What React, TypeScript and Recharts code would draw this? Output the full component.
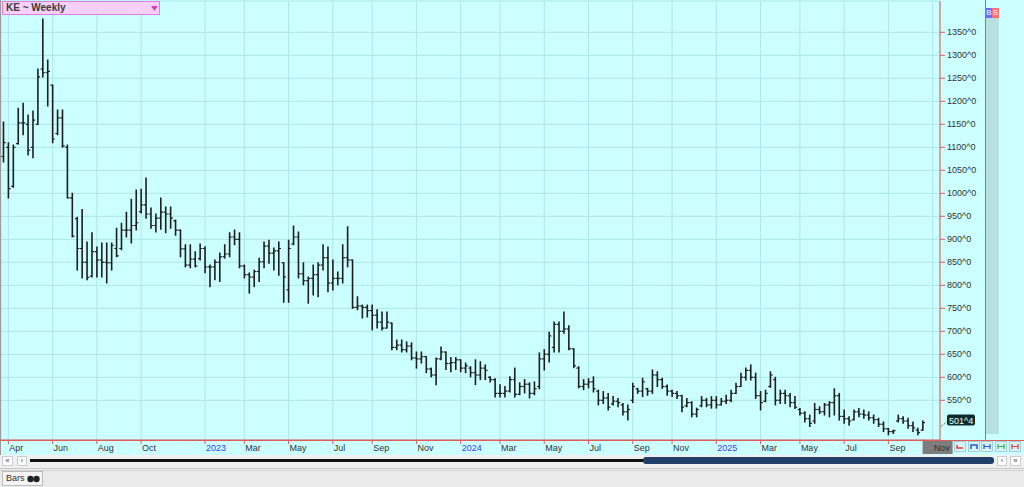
import React from 'react'
import { ComposedChart, Bar, XAxis, YAxis, CartesianGrid, ReferenceLine } from 'recharts'

// weekly KE futures bars, first bar is the week ending 2022-03-25
const firstWeek = '2022-03-25'
const weeksAhead = 3

const highs = [
  1155, 1110, 1105, 1185, 1196, 1170, 1179, 1270, 1379, 1290,
  1235, 1181, 1181, 1105, 1000, 948, 965, 894, 914, 883,
  892, 892, 892, 924, 935, 959, 987, 1007, 1009, 1033,
  968, 955, 990, 970, 970, 942, 920, 888, 888, 873,
  890, 884, 844, 855, 870, 888, 914, 920, 914, 844,
  827, 833, 859, 894, 898, 881, 894, 849, 898, 929,
  916, 849, 818, 844, 849, 888, 883, 855, 829, 888,
  927, 855, 775, 757, 757, 757, 747, 742, 742, 718,
  681, 681, 677, 675, 655, 655, 645, 620, 642, 666,
  655, 643, 643, 638, 631, 623, 638, 634, 627, 601,
  597, 584, 580, 601, 620, 588, 595, 588, 590, 653,
  660, 698, 720, 720, 742, 712, 662, 623, 595, 597,
  601, 572, 569, 565, 558, 554, 543, 540, 587, 576,
  598, 576, 616, 612, 598, 583, 572, 569, 561, 554,
  547, 533, 558, 554, 558, 558, 554, 561, 572, 587,
  609, 620, 627, 609, 569, 572, 612, 600, 572, 572,
  565, 558, 532, 525, 518, 543, 536, 543, 547, 575,
  565, 529, 514, 529, 532, 529, 525, 518, 511, 503,
  489, 485, 518, 514, 511, 503, 489, 505,
]

const lows = [
  1068, 990, 1013, 1107, 1127, 1083, 1077, 1150, 1253, 1190,
  1110, 1127, 1100, 990, 905, 833, 816, 812, 818, 818,
  818, 805, 833, 862, 877, 905, 892, 920, 957, 946,
  924, 916, 922, 914, 924, 909, 862, 840, 838, 840,
  855, 827, 797, 812, 808, 859, 862, 888, 838, 816,
  783, 797, 808, 838, 848, 833, 822, 763, 763, 888,
  816, 801, 761, 779, 775, 833, 786, 790, 801, 805,
  840, 750, 747, 729, 731, 703, 707, 703, 707, 660,
  660, 655, 655, 638, 620, 631, 610, 601, 584, 638,
  617, 612, 617, 612, 610, 601, 584, 595, 595, 590,
  557, 557, 557, 568, 557, 562, 566, 555, 562, 575,
  616, 633, 655, 655, 696, 660, 621, 577, 573, 577,
  568, 540, 543, 529, 540, 536, 518, 507, 545, 565,
  558, 561, 565, 580, 576, 561, 558, 554, 525, 536,
  514, 514, 536, 536, 533, 533, 540, 543, 547, 565,
  580, 594, 594, 554, 529, 547, 578, 540, 543, 543,
  536, 532, 518, 503, 493, 500, 521, 518, 514, 518,
  507, 500, 496, 507, 514, 511, 507, 500, 493, 482,
  475, 478, 503, 500, 489, 482, 475, 485,
]

const opens = [
  1080, 1100, 1015, 1108, 1153, 1150, 1100, 1150, 1270, 1262,
  1235, 1130, 1164, 1100, 990, 945, 880, 850, 820, 873,
  855, 850, 849, 880, 880, 920, 920, 930, 960, 975,
  955, 930, 946, 959, 955, 940, 920, 879, 844, 857,
  858, 880, 840, 840, 850, 862, 868, 905, 900, 842,
  823, 818, 830, 851, 885, 870, 875, 849, 790, 890,
  905, 825, 810, 815, 823, 844, 860, 805, 815, 815,
  860, 855, 752, 755, 752, 745, 735, 720, 707, 718,
  665, 670, 660, 668, 642, 640, 645, 618, 605, 640,
  655, 630, 632, 638, 620, 620, 610, 605, 620, 600,
  595, 565, 565, 570, 595, 563, 580, 585, 565, 580,
  640, 650, 665, 715, 700, 705, 662, 620, 580, 585,
  590, 570, 550, 555, 542, 548, 540, 525, 550, 575,
  570, 575, 570, 605, 595, 580, 570, 565, 560, 538,
  545, 520, 538, 550, 540, 550, 540, 548, 550, 565,
  580, 600, 615, 600, 560, 548, 580, 595, 550, 565,
  560, 545, 530, 522, 510, 505, 530, 525, 540, 545,
  560, 515, 510, 508, 525, 520, 518, 512, 508, 498,
  488, 482, 505, 510, 505, 495, 485, 485,
]

const closes = [
  1110, 1010, 1100, 1153, 1153, 1094, 1159, 1253, 1262, 1265,
  1118, 1164, 1103, 990, 907, 880, 850, 817, 873, 855,
  850, 849, 887, 864, 920, 920, 930, 936, 975, 955,
  930, 946, 959, 955, 946, 920, 879, 844, 857, 842,
  880, 840, 840, 850, 862, 868, 905, 900, 842, 823,
  818, 830, 851, 885, 870, 875, 880, 818, 880, 905,
  825, 810, 815, 823, 844, 860, 805, 815, 815, 860,
  855, 752, 755, 752, 745, 735, 720, 707, 720, 665,
  670, 660, 668, 642, 640, 645, 618, 605, 640, 655,
  630, 632, 638, 620, 625, 610, 605, 620, 615, 595,
  565, 565, 570, 595, 563, 580, 585, 565, 575, 640,
  650, 690, 715, 700, 705, 662, 625, 580, 585, 590,
  575, 550, 555, 535, 548, 545, 525, 530, 580, 570,
  590, 570, 605, 595, 580, 570, 565, 560, 535, 545,
  520, 530, 550, 540, 550, 540, 548, 550, 565, 580,
  600, 615, 600, 560, 545, 565, 605, 550, 565, 560,
  545, 535, 522, 510, 500, 530, 525, 540, 545, 560,
  515, 510, 505, 525, 520, 518, 512, 508, 498, 488,
  482, 484, 510, 505, 495, 490, 480, 501.5,
]

const tickDates = [
  '2022-04-01', '2022-06-03', '2022-08-05', '2022-10-07', '2023-01-06', '2023-03-03',
  '2023-05-05', '2023-07-07', '2023-09-01', '2023-11-03', '2024-01-05', '2024-03-01',
  '2024-05-03', '2024-07-05', '2024-09-06', '2024-11-01', '2025-01-03', '2025-03-07',
  '2025-05-02', '2025-07-04', '2025-09-05', '2025-11-07',
]
const tickNames = [
  'Apr', 'Jun', 'Aug', 'Oct', '2023', 'Mar', 'May', 'Jul', 'Sep', 'Nov', '2024', 'Mar',
  'May', 'Jul', 'Sep', 'Nov', '2025', 'Mar', 'May', 'Jul', 'Sep', 'Nov',
]
const priceTicks = [550, 600, 650, 700, 750, 800, 850, 900, 950, 1000, 1050, 1100, 1150, 1200, 1250, 1300, 1350]

const RED = '#e25b5b'
const BG = '#ccffff'
const GRID = '#ade6e6'
const FONT = '"Liberation Sans", Arial, sans-serif'

const dates: string[] = []
for (let i = 0; i < highs.length + weeksAhead; i++) {
  const d = new Date(Date.parse(firstWeek + 'T00:00:00Z') + i * 7 * 86400000)
  dates.push(d.toISOString().slice(0, 10))
}

const rows = dates.map((date, i) =>
  i < highs.length
    ? { date, range: [lows[i], highs[i]], high: highs[i], low: lows[i], open: opens[i], close: closes[i] }
    : { date, range: null }
)

const lastClose = closes[closes.length - 1]
const fmt32 = (v: number) => `${Math.floor(v)}^${Math.round((v % 1) * 8)}`

function OhlcShape(props: any) {
  const { x, y, width, height, payload } = props
  if (payload == null || payload.high == null || height == null) return <g />
  const top = Math.min(y, y + height)
  const h = Math.abs(height)
  const cx = x + width / 2
  const span = payload.high - payload.low || 1
  const oy = top + ((payload.high - payload.open) / span) * h
  const cy = top + ((payload.high - payload.close) / span) * h
  return (
    <g stroke="#1e1e1e" strokeWidth={1.6}>
      <line x1={cx} y1={top - 0.5} x2={cx} y2={top + h + 0.5} />
      <line x1={cx - 2.2} y1={oy} x2={cx} y2={oy} strokeWidth={1.2} />
      <line x1={cx} y1={cy} x2={cx + 2.2} y2={cy} strokeWidth={1.2} />
    </g>
  )
}

function DateTick(props: any) {
  const { x, y, payload } = props
  const idx = tickDates.indexOf(payload.value)
  const label = tickNames[idx] ?? ''
  const isYear = /^\d{4}$/.test(label)
  const isCurrent = idx === tickDates.length - 1
  return (
    <g>
      {isCurrent && <rect x={x - 10} y={y - 3} width={30} height={13} fill="#7d7d7d" />}
      <text x={x + 1} y={y + 7} fontSize={9} fontFamily={FONT} fill={isYear ? '#3b3bff' : '#333'}>
        {label}
      </text>
    </g>
  )
}

function PriceTag(props: any) {
  const vb = props.viewBox
  if (!vb) return null
  const x = vb.x + vb.width
  const y = vb.y
  return (
    <g>
      <line x1={x + 1} y1={y + 4} x2={x + 7} y2={y - 1} stroke="#555" strokeDasharray="1 1" />
      <rect x={x + 7} y={y - 8} width={28} height={11} rx={2} fill="#0d2d2d" />
      <text x={x + 9} y={y + 1} fontSize={9} fontFamily={FONT} fill="#e6ffff">
        {fmt32(lastClose)}
      </text>
    </g>
  )
}

function ToolButton({ left, color, kind }: { left: number; color: string; kind: string }) {
  return (
    <div style={{ position: 'absolute', left, top: 441, width: 12, height: 11, background: '#d6f3f7', border: '1px solid #9fcfd8', boxSizing: 'border-box' }}>
      <svg width={10} height={9} style={{ position: 'absolute', left: 0, top: 0 }}>
        {kind === 'l' && <path d="M2 3 V6 H8" stroke={color} strokeWidth={1.5} fill="none" />}
        {kind === 'n' && <path d="M2 7 V3 H8 V7" stroke={color} strokeWidth={1.5} fill="none" />}
        {kind === 'h' && <path d="M2 2 V7 M8 2 V7 M2 4.5 H8" stroke={color} strokeWidth={1.2} fill="none" />}
      </svg>
    </div>
  )
}

export default function App() {
  return (
    <div style={{ position: 'absolute', left: 0, top: 0, width: 1024, height: 487, background: '#eeeeee', overflow: 'hidden', fontFamily: FONT }}>
      <div style={{ position: 'absolute', left: 0, top: 0, width: 1024, height: 455, background: BG }} />
      <div style={{ position: 'absolute', left: 0, top: 0 }}>
        <ComposedChart width={1024} height={455} data={rows} margin={{ top: 1, right: 39, bottom: 0, left: 1 }}>
          <CartesianGrid stroke={GRID} strokeWidth={1} />
          <XAxis
            dataKey="date"
            ticks={tickDates}
            interval={0}
            height={15}
            tick={DateTick}
            tickSize={4}
            tickMargin={0}
            axisLine={{ stroke: RED }}
            tickLine={{ stroke: RED }}
          />
          <YAxis
            orientation="right"
            width={45}
            domain={[463.7, 1418]}
            allowDataOverflow
            ticks={priceTicks}
            interval={0}
            tickFormatter={(v: number) => `${v}^0`}
            tick={{ fontSize: 9, fill: '#333', fontFamily: FONT, textAnchor: 'start' }}
            tickSize={5}
            tickMargin={2}
            axisLine={{ stroke: RED }}
            tickLine={{ stroke: RED }}
          />
          <Bar dataKey="range" shape={OhlcShape} isAnimationActive={false} />
          <ReferenceLine y={lastClose} stroke="none" label={<PriceTag />} />
        </ComposedChart>
      </div>

      {/* frame lines */}
      <div style={{ position: 'absolute', left: 0, top: 0, width: 1, height: 455, background: '#9a9a9a' }} />
      <div style={{ position: 'absolute', left: 0, top: 440, width: 1024, height: 1, background: RED }} />
      <div style={{ position: 'absolute', left: 985, top: 0, width: 1, height: 440, background: RED }} />

      {/* symbol box */}
      <div style={{ position: 'absolute', left: 2, top: 1, width: 158, height: 14, background: '#f6d0f6', border: '1px solid #df7fdf', boxSizing: 'border-box' }}>
        <span style={{ position: 'absolute', left: 3, top: 0, fontSize: 10, fontWeight: 'bold', color: '#3a3a3a', lineHeight: '12px' }}>KE ~ Weekly</span>
        <svg width={8} height={6} style={{ position: 'absolute', left: 148, top: 4 }}>
          <path d="M0 0 H7 L3.5 5 Z" fill="#d63fbf" />
        </svg>
      </div>

      {/* B / S column */}
      <div style={{ position: 'absolute', left: 986, top: 8, width: 13, height: 426, background: '#b9e0e0' }} />
      <div style={{ position: 'absolute', left: 986, top: 8, width: 6, height: 10, background: '#6b6bff', color: '#fff', fontSize: 8, lineHeight: '10px', textAlign: 'center' }}>B</div>
      <div style={{ position: 'absolute', left: 992, top: 8, width: 7, height: 10, background: '#ff6f6f', color: '#fff', fontSize: 8, lineHeight: '10px', textAlign: 'center' }}>S</div>

      {/* tool buttons */}
      <ToolButton left={954} color="#e23a3a" kind="l" />
      <ToolButton left={968} color="#2c52d8" kind="n" />
      <ToolButton left={981} color="#2c52d8" kind="h" />
      <ToolButton left={995} color="#2fb04a" kind="h" />
      <ToolButton left={1009} color="#e23a3a" kind="h" />

      {/* scroll bar row */}
      <div style={{ position: 'absolute', left: 0, top: 455, width: 1024, height: 13, background: '#f0f0f0' }} />
      <div style={{ position: 'absolute', left: 2, top: 456, width: 11, height: 10, background: '#fff', border: '1px solid #ccc', boxSizing: 'border-box', fontSize: 7, lineHeight: '8px', textAlign: 'center', color: '#333' }}>«</div>
      <div style={{ position: 'absolute', left: 17, top: 456, width: 10, height: 10, background: '#fff', border: '1px solid #ccc', boxSizing: 'border-box', fontSize: 7, lineHeight: '8px', textAlign: 'center', color: '#333' }}>‹</div>
      <div style={{ position: 'absolute', left: 30, top: 459, width: 616, height: 3, background: '#111' }} />
      <div style={{ position: 'absolute', left: 643, top: 457, width: 351, height: 7, background: '#1f3f68', borderRadius: 3 }} />
      <div style={{ position: 'absolute', left: 997, top: 456, width: 10, height: 10, background: '#fff', border: '1px solid #ccc', boxSizing: 'border-box', fontSize: 7, lineHeight: '8px', textAlign: 'center', color: '#333' }}>›</div>
      <div style={{ position: 'absolute', left: 1010, top: 456, width: 11, height: 10, background: '#fff', border: '1px solid #ccc', boxSizing: 'border-box', fontSize: 7, lineHeight: '8px', textAlign: 'center', color: '#333' }}>»</div>

      {/* status row */}
      <div style={{ position: 'absolute', left: 0, top: 468, width: 1024, height: 1, background: '#c8c8c8' }} />
      <div style={{ position: 'absolute', left: 0, top: 470, width: 1024, height: 17, background: '#ebebeb', borderTop: '1px solid #d0d0d0', boxSizing: 'border-box' }} />
      <div style={{ position: 'absolute', left: 2, top: 471, width: 41, height: 15, background: '#f4f4f4', border: '1px solid #bdbdbd', boxSizing: 'border-box' }}>
        <span style={{ position: 'absolute', left: 3, top: 1, fontSize: 9, color: '#333', lineHeight: '11px' }}>Bars</span>
        <svg width={14} height={8} style={{ position: 'absolute', left: 24, top: 3 }}>
          <circle cx={3.5} cy={4} r={3.2} fill="#222" />
          <circle cx={9.5} cy={4} r={3.2} fill="#222" />
        </svg>
      </div>
    </div>
  )
}
